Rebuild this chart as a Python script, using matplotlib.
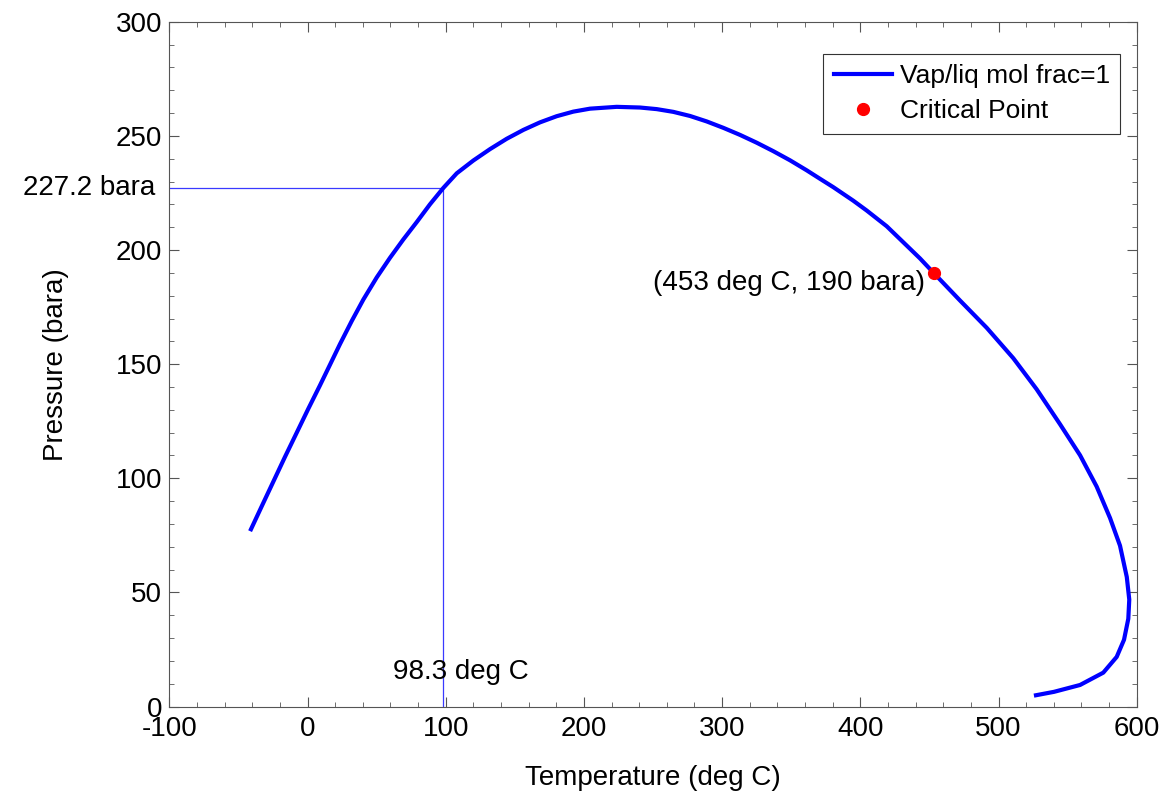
import numpy as np
import matplotlib.pyplot as plt
from matplotlib.ticker import MultipleLocator

plt.rcParams['font.family'] = ['Liberation Sans', 'DejaVu Sans']
plt.rcParams['axes.unicode_minus'] = False

# phase envelope, vap/liq mol frac = 1
temp = [-40.9, -33.1, -24.7, -16.3, -7.8, 0.6, 9.0, 16.3, 23.5, 32.0, 40.4,
        50.1, 59.7, 69.3, 79.0, 88.6, 98.3, 108.0, 120.0, 132.1, 144.1, 156.2,
        168.2, 180.3, 192.3, 204.4, 223.7, 240.6, 252.7, 264.7, 276.8, 288.9,
        300.9, 313.0, 325.0, 337.0, 349.1, 361.2, 370.8, 380.5, 394.9, 404.6,
        419.1, 443.2, 453.0, 472.1, 491.5, 510.7, 527.6, 544.5, 559.0, 571.0,
        580.7, 587.9, 592.8, 594.6, 593.9, 590.8, 585.5, 575.8, 559.0, 540.2,
        527.1]
pres = [77.7, 87.8, 98.6, 109.4, 120.0, 130.5, 140.7, 149.8, 158.8, 168.9,
        178.3, 188.0, 196.6, 204.6, 212.2, 220.0, 227.2, 233.6, 239.2, 244.2,
        248.7, 252.6, 255.9, 258.6, 260.6, 261.9, 262.7, 262.4, 261.7, 260.5,
        258.7, 256.3, 253.5, 250.4, 247.0, 243.3, 239.3, 234.9, 231.2, 227.5,
        221.6, 217.3, 210.4, 196.3, 190.0, 177.9, 165.9, 152.6, 139.0, 123.7,
        110.1, 96.4, 82.6, 70.5, 56.8, 46.9, 38.5, 29.3, 21.8, 14.9, 9.5, 6.5,
        5.0]

crit_t = [453]
crit_p = [190]

# guide lines for the 227.2 bara / 98.3 deg C point
guide_h_t = [-100, 98.3]
guide_h_p = [227.2, 227.2]
guide_v_t = [98.3, 98.3]
guide_v_p = [0, 227.2]

fig = plt.figure(figsize=(11.66, 7.94), dpi=100)
ax = fig.add_axes([0.1452, 0.110, 0.8297, 0.8627])

ax.plot(guide_h_t, guide_h_p, color="#3a3aff", linewidth=0.9)
ax.plot(guide_v_t, guide_v_p, color="#3a3aff", linewidth=0.9)
ax.plot(temp, pres, color="blue", linewidth=3, label="Vap/liq mol frac=1",
        solid_joinstyle="round")
ax.plot(crit_t, crit_p, "o", color="red", markersize=8.5, label="Critical Point")

ax.set_xlim(-100, 600)
ax.set_ylim(0, 300)
ax.xaxis.set_major_locator(MultipleLocator(100))
ax.xaxis.set_minor_locator(MultipleLocator(20))
ax.yaxis.set_major_locator(MultipleLocator(50))
ax.yaxis.set_minor_locator(MultipleLocator(10))
ax.tick_params(which="both", direction="in", top=True, right=True, color="#555555")
ax.tick_params(which="major", length=7, labelsize=20)
ax.tick_params(which="minor", length=3.5)
ax.tick_params(axis="x", pad=7)
ax.tick_params(axis="y", pad=5)
for s in ax.spines.values():
    s.set_color("#555555")

ax.set_xlabel("Temperature (deg C)", fontsize=20, labelpad=16)
ax.set_ylabel("Pressure (bara)", fontsize=20, labelpad=34)

ax.text(-0.015, 227.2, "227.2 bara", transform=ax.get_yaxis_transform(),
        ha="right", va="center", fontsize=20)
ax.text(62, 15, "98.3 deg C", ha="left", va="center", fontsize=20)
ax.text(447, 185.5, "(453 deg C, 190 bara)", ha="right", va="center", fontsize=20)

leg = ax.legend(loc="upper right", bbox_to_anchor=(0.983, 0.953), fontsize=19,
                fancybox=False, framealpha=1, edgecolor="#333333",
                borderaxespad=0, handlelength=2.2, handletextpad=0.3,
                borderpad=0.4, labelspacing=0.4)
leg.get_frame().set_linewidth(0.8)

fig.savefig("out.png", dpi=100)
